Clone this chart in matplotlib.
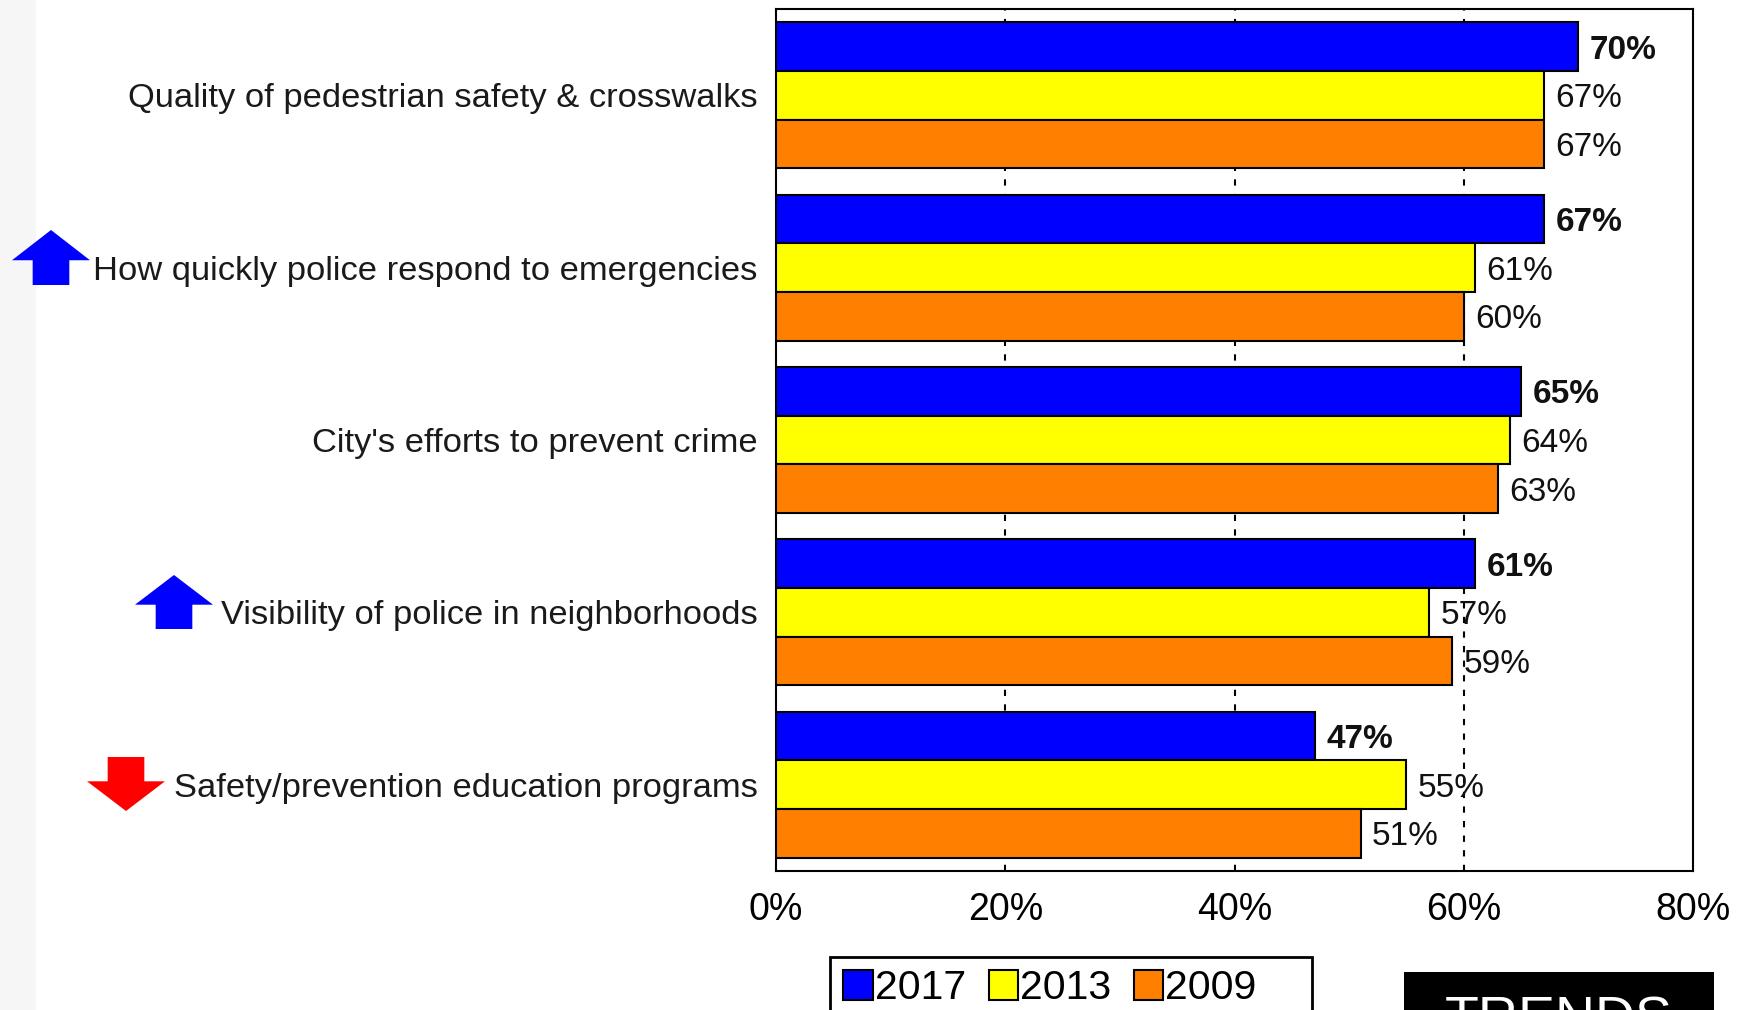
import matplotlib.pyplot as plt
import numpy as np
from matplotlib.patches import Polygon, Rectangle

categories = [
    "Quality of pedestrian safety & crosswalks",
    "How quickly police respond to emergencies",
    "City's efforts to prevent crime",
    "Visibility of police in neighborhoods",
    "Safety/prevention education programs",
]
years = ["2017", "2013", "2009"]
y_2017 = [70, 67, 65, 61, 47]
y_2013 = [67, 61, 64, 57, 55]
y_2009 = [67, 60, 63, 59, 51]
xticks = [0, 20, 40, 60, 80]

colors = ["#0000ff", "#ffff00", "#ff8000"]
series = [y_2017, y_2013, y_2009]

plt.rcParams["font.family"] = ["Liberation Sans", "DejaVu Sans"]

W, H = 1745, 1010
fig = plt.figure(figsize=(W / 100, H / 100), dpi=100)
ax = fig.add_axes([776 / W, 1 - 871 / H, (1693 - 776) / W, (871 - 9) / H])

# light strip on the far left
fig.add_artist(Rectangle((0, 0), 36 / W, 1, transform=fig.transFigure,
                         facecolor="#f6f6f6", edgecolor="none", zorder=0))

n = len(categories)
ypos = np.arange(n)
bh = 0.282

for i, (vals, c, yr) in enumerate(zip(series, colors, years)):
    yy = ypos + (i - 1) * bh
    ax.barh(yy, vals, height=bh, color=c, edgecolor="k", linewidth=1.5,
            label=yr, zorder=3)
    for y, v in zip(yy, vals):
        ax.text(v + 1.0, y + 0.02, f"{v}%", va="center", ha="left", fontsize=24,
                fontweight="bold" if i == 0 else "normal", color="#111111",
                zorder=4)

ax.set_xlim(0, 80)
ax.set_ylim(n - 0.5, -0.5)
ax.set_xticks(xticks)
ax.set_xticklabels([f"{t}%" for t in xticks], fontsize=27)
ax.tick_params(axis="x", length=0, pad=15)
ax.set_yticks([])
for t in [20, 40, 60]:
    ax.axvline(t, color="k", linestyle=(0, (3, 4)), linewidth=1.5, zorder=1)
for s in ax.spines.values():
    s.set_linewidth(1.5)

for y, cat in zip(ypos, categories):
    ax.text(-1.6, y + 0.02, cat, ha="right", va="center", fontsize=24.8,
            color="#1a1a1a")


def arrow(x0, y0, w, h, color, up=True):
    # x0,y0 top-left in pixels, head takes 55% of height
    sw = w * 0.47
    hh = h * 0.55
    cx = x0 + w / 2
    if up:
        pts = [(cx, y0), (x0 + w, y0 + hh), (cx + sw / 2, y0 + hh),
               (cx + sw / 2, y0 + h), (cx - sw / 2, y0 + h),
               (cx - sw / 2, y0 + hh), (x0, y0 + hh)]
    else:
        pts = [(cx - sw / 2, y0), (cx + sw / 2, y0), (cx + sw / 2, y0 + h - hh),
               (x0 + w, y0 + h - hh), (cx, y0 + h), (x0, y0 + h - hh),
               (cx - sw / 2, y0 + h - hh)]
    pts = [(px / W, 1 - py / H) for px, py in pts]
    fig.add_artist(Polygon(pts, closed=True, transform=fig.transFigure,
                           facecolor=color, edgecolor="none"))


arrow(12, 230, 78, 55, "#0000ff", up=True)
arrow(135, 575, 78, 54, "#0000ff", up=True)
arrow(87, 757, 78, 54, "#ff0000", up=False)

# legend box (runs off the bottom edge)
fig.add_artist(Rectangle((830 / W, -0.05), (1312 - 830) / W, 0.05 + 53 / H,
                         transform=fig.transFigure, facecolor="white",
                         edgecolor="k", linewidth=2))
leg = fig.legend(loc="upper left", bbox_to_anchor=(833 / W, 1 - 959 / H),
                 ncol=3, fontsize=29.5, frameon=False,
                 handlelength=0.72, handleheight=0.75,
                 handletextpad=0.05, columnspacing=0.55, borderpad=0.25,
                 borderaxespad=0)

fig.add_artist(Rectangle((1404 / W, 0), (1714 - 1404) / W, 38 / H,
                         transform=fig.transFigure, facecolor="k",
                         edgecolor="none"))
fig.text(1559 / W, 1 - 996 / H, "TRENDS", ha="center", va="top",
         fontsize=40, color="white")

plt.savefig("out.png", dpi=100)
